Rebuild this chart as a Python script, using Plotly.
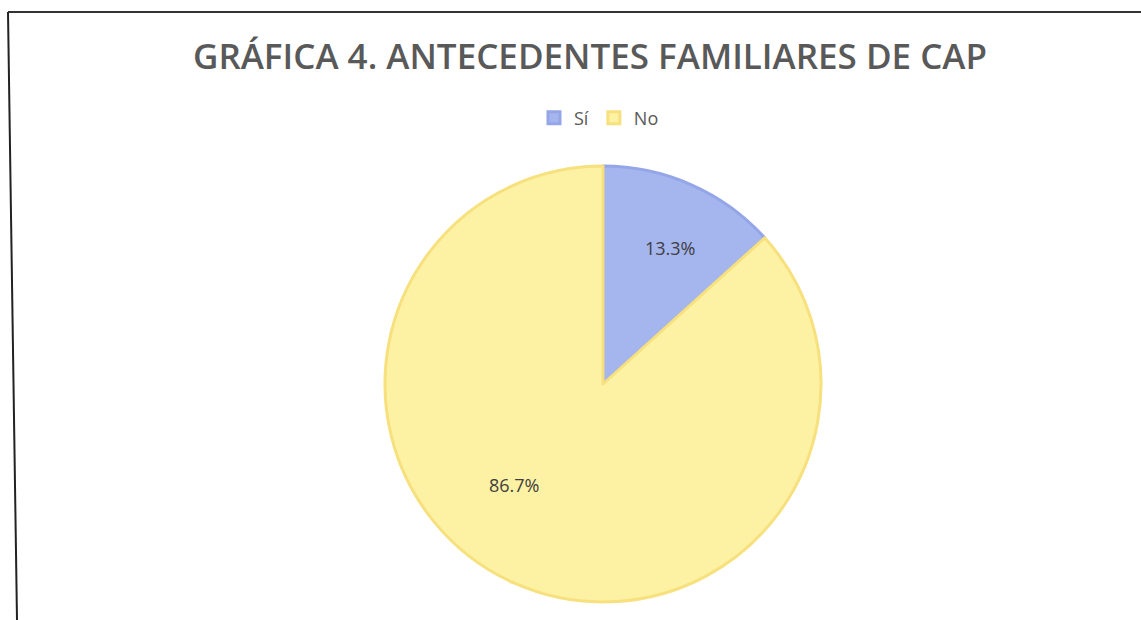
import math
import plotly.graph_objects as go

# Family history of CAP: share of respondents
categories = ["Sí", "No"]
percentages = [13.3, 86.7]
slice_colors = ["#a5b5ee", "#fdf2a4"]
edge_colors = ["#94a6e8", "#f7e07e"]
# label placement: distance from centre (fraction of radius) and turn away from the bisector (deg)
label_radius = [0.695, 0.617]
label_turn = [2.3, 17.5]

W, H = 1141, 620
CX, CY, R = 603, 384, 218  # pie centre and radius in pixels

fig = go.Figure(
    go.Pie(
        labels=categories,
        values=percentages,
        sort=False,
        direction="clockwise",
        rotation=0,
        marker=dict(colors=slice_colors, line=dict(color=edge_colors, width=3)),
        textinfo="none",
        hoverinfo="label+percent",
        domain=dict(x=[(CX - R) / W, (CX + R) / W], y=[(H - CY - R) / H, (H - CY + R) / H]),
    )
)

# data labels inside each slice
annotations = []
total = sum(percentages)
start = 0.0
for value, frac, turn in zip(percentages, label_radius, label_turn):
    mid = (start + value / 2) / total * 2 * math.pi + math.radians(turn)  # clockwise from 12 o'clock
    start += value
    px = CX + frac * R * math.sin(mid)
    py = CY - frac * R * math.cos(mid)
    annotations.append(dict(
        x=px / W, y=1 - py / H, xref="paper", yref="paper",
        xanchor="center", yanchor="middle",
        text=f"{value:.1f}%", showarrow=False,
        font=dict(family="Open Sans", size=18, color="#404040"),
    ))

fig.update_layout(
    width=W,
    height=H,
    margin=dict(l=0, r=0, t=0, b=0),
    paper_bgcolor="white",
    plot_bgcolor="white",
    title=dict(
        text="GRÁFICA 4. ANTECEDENTES FAMILIARES DE CAP",
        x=590 / W,
        xanchor="center",
        y=1 - 57 / H,
        yanchor="middle",
        font=dict(family="Open Sans", size=35, color="#595959", weight=600),
    ),
    showlegend=True,
    legend=dict(
        orientation="h",
        x=599 / W,
        xanchor="center",
        y=1 - 118 / H,
        yanchor="middle",
        itemwidth=30,
        font=dict(family="Open Sans", size=18, color="#595959"),
        traceorder="normal",
    ),
    annotations=annotations,
    shapes=[
        # frame: top edge and slightly skewed left edge
        dict(type="line", xref="paper", yref="paper",
             x0=8 / W, y0=1 - 12 / H, x1=1.0, y1=1 - 12 / H,
             line=dict(color="#333333", width=2)),
        dict(type="line", xref="paper", yref="paper",
             x0=8 / W, y0=1 - 12 / H, x1=17 / W, y1=0,
             line=dict(color="#222222", width=2)),
    ],
)

fig.write_html("out.html")
